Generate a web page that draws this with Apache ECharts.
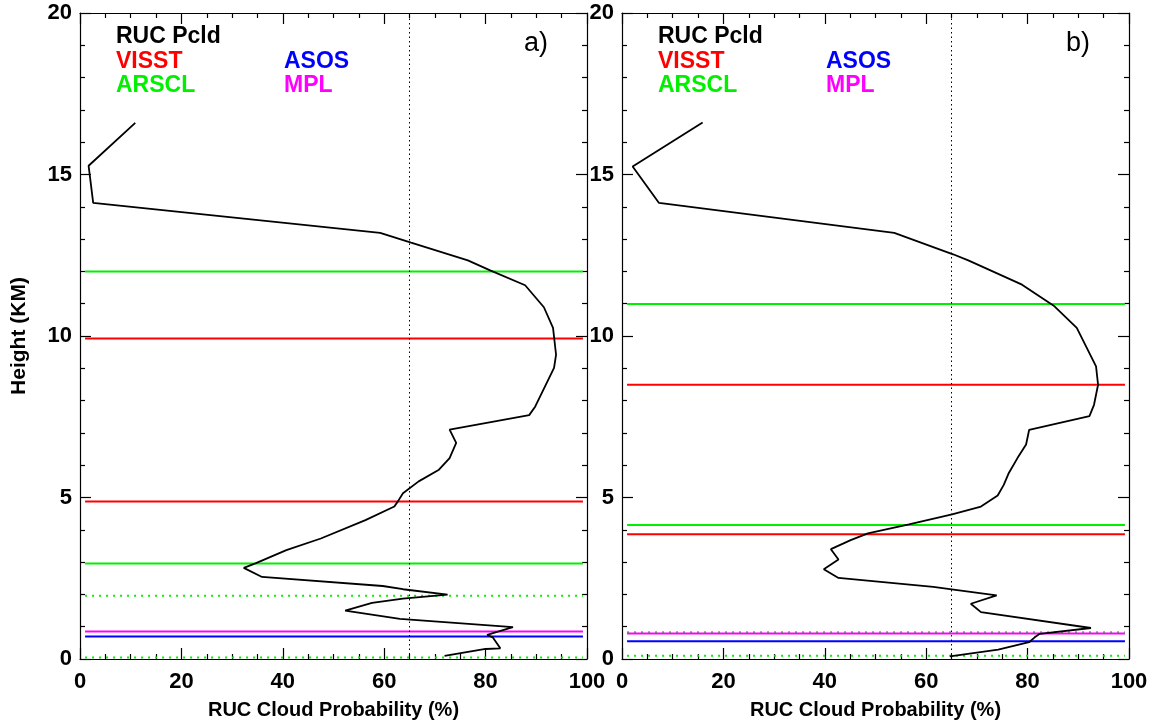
<!DOCTYPE html>
<html>
<head>
<meta charset="utf-8">
<title>RUC Pcld profiles</title>
<script src="https://cdn.jsdelivr.net/npm/echarts@6.0.0/dist/echarts.min.js"></script>
<style>
html, body { margin: 0; padding: 0; background: #fff; }
#chart { width: 1156px; height: 725px; }
</style>
</head>
<body>
<div id="chart"></div>
<script>
// axis ranges
const probRange = [0, 100];
const heightRange = [0, 20];
const thresholdProb = 65;
const lineSpan = [1, 99.2];

// panel a) RUC Pcld profile [prob %, height km]
const pcldA = [
  [10.9, 16.6], [1.7, 15.27], [2.6, 14.12], [59.2, 13.19], [65.3, 12.89], [76.5, 12.34],
  [80.9, 12.03], [87.8, 11.57], [91.5, 10.89], [93.3, 10.25], [93.9, 9.42], [93.5, 9.01],
  [89.8, 7.82], [88.6, 7.55], [72.9, 7.1], [74.2, 6.69], [72.9, 6.22], [70.8, 5.86],
  [66.8, 5.5], [63.7, 5.13], [62.7, 4.88], [62.0, 4.72], [56.3, 4.3], [47.5, 3.73],
  [40.7, 3.37], [34.6, 2.96], [32.3, 2.82], [35.9, 2.54], [59.7, 2.26], [63.7, 2.16],
  [72.5, 1.99], [63.7, 1.87], [57.6, 1.74], [52.3, 1.5], [63.1, 1.24], [85.4, 0.99],
  [80.3, 0.75], [81.4, 0.67], [82.9, 0.33], [80.0, 0.31], [71.9, 0.1]
];
// panel a) observed cloud heights (km)
const visstA = [9.92, 4.88];
const arsclA = [12.0, 2.96];
const arsclDotA = [1.96, 0.05];
const asosA = [0.70];
const mplA = [0.85];

// panel b)
const pcldB = [
  [15.9, 16.61], [2.1, 15.25], [7.3, 14.12], [53.7, 13.19], [65.3, 12.53], [68.3, 12.34],
  [78.9, 11.59], [85.3, 10.92], [89.7, 10.25], [93.5, 9.06], [93.9, 8.49], [93.1, 7.87],
  [92.2, 7.52], [80.3, 7.09], [79.7, 6.64], [78.0, 6.22], [76.3, 5.76], [75.3, 5.39],
  [74.1, 5.06], [70.8, 4.72], [65.1, 4.48], [56.6, 4.17], [48.5, 3.89], [45.1, 3.68],
  [43.7, 3.58], [41.2, 3.4], [42.7, 3.08], [39.8, 2.78], [42.7, 2.51], [61.4, 2.23],
  [65.4, 2.15], [73.9, 1.97], [68.8, 1.71], [70.8, 1.45], [92.5, 0.96], [82.4, 0.78],
  [81.4, 0.67], [80.3, 0.52], [74.2, 0.29], [64.7, 0.08]
];
const visstB = [8.49, 3.86];
const arsclB = [10.99, 4.15];
const arsclDotB = [0.83, 0.10];
const asosB = [0.55];
const mplB = [0.79];

const panelTags = ['a)', 'b)'];
const legendItems = [
  { text: 'RUC Pcld', color: '#000000', col: 0, row: 0 },
  { text: 'VISST', color: '#ff0000', col: 0, row: 1 },
  { text: 'ARSCL', color: '#00f000', col: 0, row: 2 },
  { text: 'ASOS', color: '#0000ff', col: 1, row: 1 },
  { text: 'MPL', color: '#ff00ff', col: 1, row: 2 }
];

const FONT = '"Liberation Sans", Arial, Helvetica, sans-serif';
const gridLefts = [80, 622];
const gridWidth = 507;

function xAxisOf(grid, pos) {
  const bottom = pos === 'bottom';
  return {
    type: 'value', gridIndex: grid, position: pos,
    min: probRange[0], max: probRange[1], interval: 20,
    axisLine: { show: true, onZero: false, lineStyle: { color: '#000', width: 1.2 } },
    axisTick: { show: true, inside: true, length: 11, lineStyle: { color: '#000', width: 1.2 } },
    minorTick: { show: true, splitNumber: 4, length: 5, lineStyle: { color: '#000', width: 1.2 } },
    splitLine: { show: false },
    axisLabel: { show: bottom, color: '#000', fontSize: 22, fontWeight: 'bold', fontFamily: FONT, margin: 12 },
    name: bottom ? 'RUC Cloud Probability (%)' : '',
    nameLocation: 'middle', nameGap: 41,
    nameTextStyle: { color: '#000', fontSize: 20, fontWeight: 'bold', fontFamily: FONT }
  };
}

function yAxisOf(grid, pos, withName) {
  const left = pos === 'left';
  return {
    type: 'value', gridIndex: grid, position: pos,
    min: heightRange[0], max: heightRange[1], interval: 5,
    axisLine: { show: true, onZero: false, lineStyle: { color: '#000', width: 1.2 } },
    axisTick: { show: true, inside: true, length: 11, lineStyle: { color: '#000', width: 1.2 } },
    minorTick: { show: true, splitNumber: 5, length: 5, lineStyle: { color: '#000', width: 1.2 } },
    splitLine: { show: false },
    axisLabel: { show: left, color: '#000', fontSize: 22, fontWeight: 'bold', fontFamily: FONT, margin: 8 },
    name: withName ? 'Height (KM)' : '',
    nameLocation: 'middle', nameGap: 50,
    nameTextStyle: { color: '#000', fontSize: 21, fontWeight: 'bold', fontFamily: FONT }
  };
}

// one horizontal line per observed cloud height
function levelSeries(heights, color, dotted, axisIdx) {
  return heights.map(function (h) {
    return {
      type: 'line', xAxisIndex: axisIdx, yAxisIndex: axisIdx,
      data: [[lineSpan[0], h], [lineSpan[1], h]],
      symbol: 'none', silent: true,
      lineStyle: { color: color, width: 2, type: dotted ? [2, 5] : 'solid' }
    };
  });
}

function panelSeries(pcld, visst, arscl, arsclDot, asos, mpl, axisIdx) {
  return [].concat(
    levelSeries(arscl, '#00f000', false, axisIdx),
    levelSeries(arsclDot, '#00f000', true, axisIdx),
    levelSeries(visst, '#ff0000', false, axisIdx),
    levelSeries(asos, '#0000ff', false, axisIdx),
    levelSeries(mpl, '#ff00ff', false, axisIdx),
    [{
      type: 'line', xAxisIndex: axisIdx, yAxisIndex: axisIdx,
      data: pcld, symbol: 'none',
      lineStyle: { color: '#000', width: 1.8 },
      markLine: {
        silent: true, symbol: 'none', label: { show: false },
        lineStyle: { color: '#000', width: 1, type: [1.5, 3] },
        data: [{ xAxis: thresholdProb }]
      }
    }]
  );
}

function panelTexts(p) {
  const x0 = gridLefts[p];
  const items = legendItems.map(function (it) {
    return {
      type: 'text', x: x0 + 36, y: 37 + it.row * 24.5,
      style: { text: it.text, fill: it.color, font: 'bold 23px ' + FONT, verticalAlign: 'middle' }
    };
  });
  items.forEach(function (el, i) { el.x += legendItems[i].col * 168; });
  items.push({
    type: 'text', x: x0 + 456, y: 43.5,
    style: { text: panelTags[p], fill: '#000', font: '27px ' + FONT, align: 'center', verticalAlign: 'middle' }
  });
  return items;
}

const option = {
  backgroundColor: '#fff',
  animation: false,
  grid: [
    { left: gridLefts[0], top: 13, width: gridWidth, bottom: 64 },
    { left: gridLefts[1], top: 13, width: gridWidth, bottom: 64 }
  ],
  xAxis: [xAxisOf(0, 'bottom'), xAxisOf(0, 'top'), xAxisOf(1, 'bottom'), xAxisOf(1, 'top')],
  yAxis: [yAxisOf(0, 'left', true), yAxisOf(0, 'right', false), yAxisOf(1, 'left', false), yAxisOf(1, 'right', false)],
  series: [].concat(
    panelSeries(pcldA, visstA, arsclA, arsclDotA, asosA, mplA, 0),
    panelSeries(pcldB, visstB, arsclB, arsclDotB, asosB, mplB, 2)
  ),
  graphic: panelTexts(0).concat(panelTexts(1))
};

const myChart = echarts.init(document.getElementById('chart'));
myChart.setOption(option);
window.addEventListener('resize', function () {
  myChart.resize();
});
</script>
</body>
</html>
